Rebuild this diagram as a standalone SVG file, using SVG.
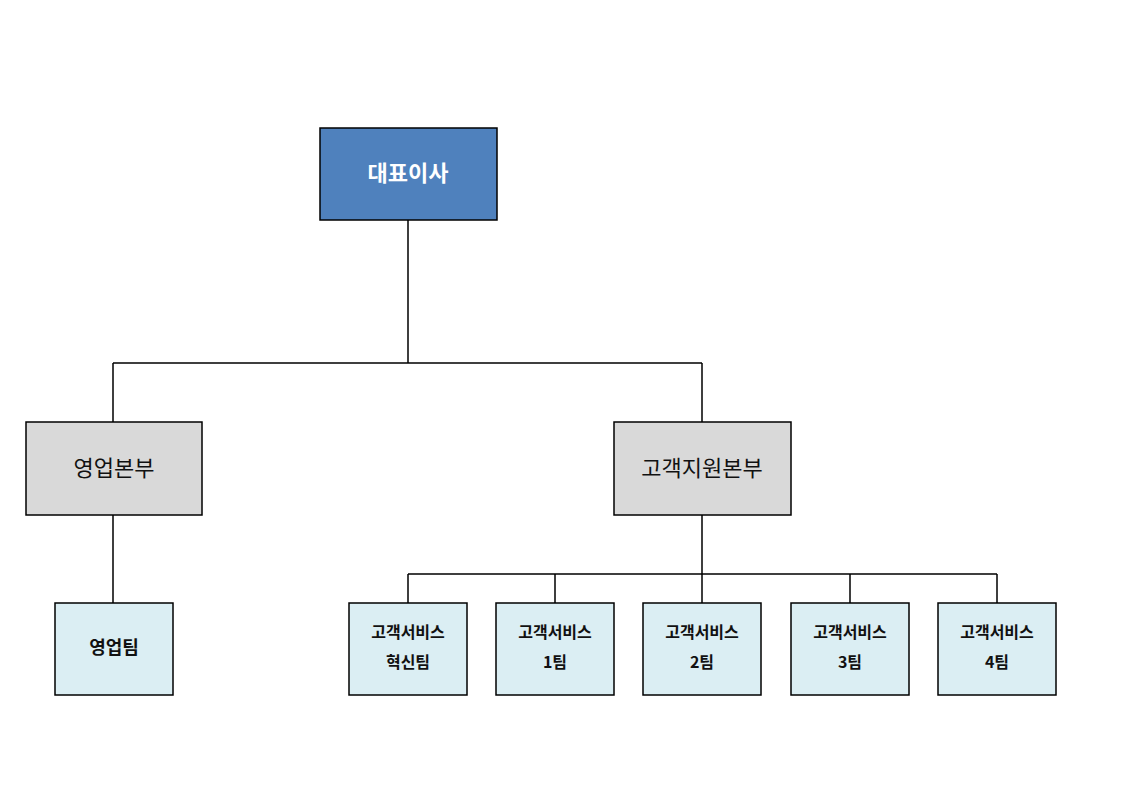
<svg xmlns="http://www.w3.org/2000/svg" width="1122" height="793" viewBox="0 0 1122 793">
<style>
.b{stroke:#000;stroke-width:1.5}
.top{fill:#4F81BD}
.mid{fill:#D9D9D9}
.leaf{fill:#DBEEF3}
text{font-family:"Noto Sans CJK KR","Noto Sans",sans-serif;text-anchor:middle;font-weight:bold}
.t1{fill:#fff;font-size:22px}
.t2{fill:#111;font-size:22px;font-weight:normal}
.t3{fill:#111;font-size:16px}
.c{stroke:#000;stroke-width:1.5;fill:none}
</style>
<rect width="1122" height="793" fill="#fff"/>
<g id="connectors">
<path class="c" d="M408 220V363M113 363H702M113 363V422M702 363V422M113 515V603M702 515V574M408 574H997M408 574V603M555 574V603M702 574V603M850 574V603M997 574V603"/>
</g>
<g id="ceo"><rect class="b top" x="320" y="128" width="177" height="92"/><text class="t1" x="408" y="181">대표이사</text></g>
<g id="sales-hq"><rect class="b mid" x="26" y="422" width="176" height="93"/><text class="t2" x="114" y="476">영업본부</text></g>
<g id="cs-hq"><rect class="b mid" x="614" y="422" width="177" height="93"/><text class="t2" x="702" y="476">고객지원본부</text></g>
<g id="sales-team"><rect class="b leaf" x="55" y="603" width="118" height="92"/><text class="t3" x="114" y="654" style="font-size:18px">영업팀</text></g>
<g id="cs-innov"><rect class="b leaf" x="349" y="603" width="118" height="92"/><text class="t3" x="408" y="638">고객서비스</text><text class="t3" x="408" y="668">혁신팀</text></g>
<g id="cs1"><rect class="b leaf" x="496" y="603" width="118" height="92"/><text class="t3" x="555" y="638">고객서비스</text><text class="t3" x="555" y="668">1팀</text></g>
<g id="cs2"><rect class="b leaf" x="643" y="603" width="118" height="92"/><text class="t3" x="702" y="638">고객서비스</text><text class="t3" x="702" y="668">2팀</text></g>
<g id="cs3"><rect class="b leaf" x="791" y="603" width="118" height="92"/><text class="t3" x="850" y="638">고객서비스</text><text class="t3" x="850" y="668">3팀</text></g>
<g id="cs4"><rect class="b leaf" x="938" y="603" width="118" height="92"/><text class="t3" x="997" y="638">고객서비스</text><text class="t3" x="997" y="668">4팀</text></g>
</svg>
